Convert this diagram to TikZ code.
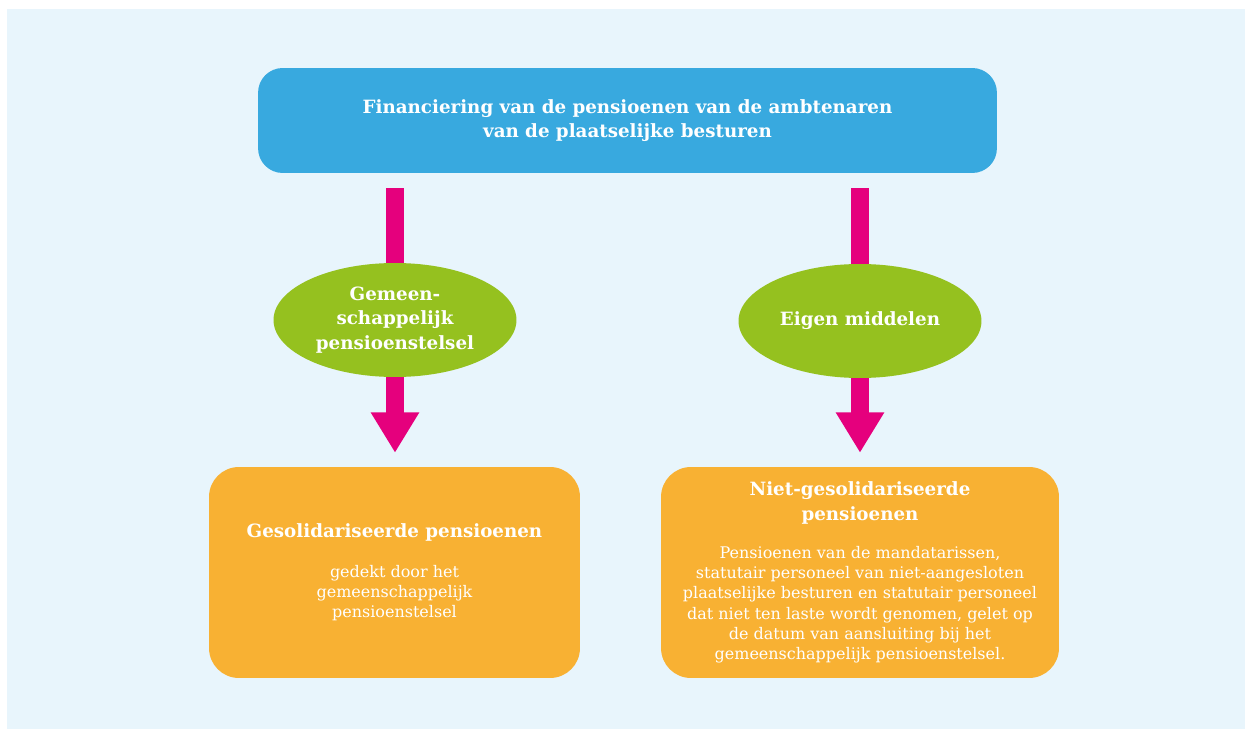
\documentclass[tikz,border=0pt]{standalone}
\usepackage{fontspec}
\setmainfont{DejaVu Serif}
\usetikzlibrary{shapes.geometric,arrows.meta,positioning}
\definecolor{bgblue}{HTML}{E8F5FC}
\definecolor{topblue}{HTML}{38A9DF}
\definecolor{magenta}{HTML}{E5007D}
\definecolor{leaf}{HTML}{95C11F}
\definecolor{sun}{HTML}{F8B133}
\newcommand{\hd}{\fontsize{10.4}{13.8}\selectfont\bfseries}
\newcommand{\bd}{\fontsize{9.1}{11.5}\selectfont}
\tikzset{
  topbox/.style={fill=topblue, rounded corners=14pt, minimum width=14.78cm, minimum height=2.1cm, text=white, align=center, font=\hd},
  oval/.style={ellipse, fill=leaf, inner sep=0pt, minimum width=4.86cm, minimum height=2.28cm, text=white, align=center, font=\hd},
  sunbox/.style={fill=sun, rounded corners=17pt, minimum height=4.22cm, text=white, align=center, font=\bd},
  pinkline/.style={draw=magenta, line width=10.2pt},
}

\begin{document}
\begin{tikzpicture}[x=0.02cm, y=-0.02cm]
      \useasboundingbox (0,0) rectangle (1245,729);
      \fill[white] (0,0) rectangle (1245,729);
      \fill[bgblue] (7,9) rectangle (1245,729);
      \node[topbox] (T) at (627.5,120.5) {Financiering van de pensioenen van de ambtenaren\\van de plaatselijke besturen};
      \node[oval] (GP) at (395,320) {Gemeen-\\schappelijk\\pensioenstelsel};
      \node[oval] (EM) at (860,321) {Eigen middelen};
      \node[sunbox, minimum width=7.42cm] (GS) at (394.5,572.5) {{\hd Gesolidariseerde pensioenen}\\[11.2pt]
        gedekt door het\\gemeenschappelijk\\pensioenstelsel};
      \node[sunbox, minimum width=7.96cm] (NG) at (860,572.5) {{\hd Niet-gesolidariseerde}\\[2.7pt]{\hd pensioenen}\\[10pt]
        Pensioenen van de mandatarissen,\\statutair personeel van niet-aangesloten\\
        plaatselijke besturen en statutair personeel\\dat niet ten laste wordt genomen, gelet op\\
        de datum van aansluiting bij het\\gemeenschappelijk pensioenstelsel.};
      \draw[pinkline, shorten <=8.5pt] (T.south -| GP.north) -- (GP.north);
      \draw[pinkline, shorten <=8.5pt] (T.south -| EM.north) -- (EM.north);
      \draw[pinkline, shorten >=7.9pt, -{Triangle[width=26pt,length=23pt]}] (GP.south) -- (GS.north -| GP.south);
      \draw[pinkline, shorten >=7.9pt, -{Triangle[width=26pt,length=23pt]}] (EM.south) -- (NG.north -| EM.south);
    \end{tikzpicture}
\end{document}
